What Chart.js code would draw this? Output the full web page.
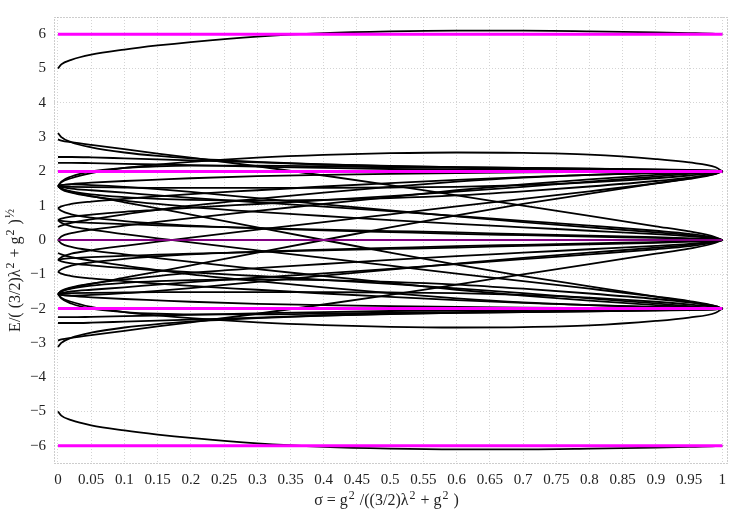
<!DOCTYPE html>
<html>
<head>
<meta charset="utf-8">
<script src="https://cdn.jsdelivr.net/npm/chart.js@4/dist/chart.umd.min.js"></script>
<style>
  html, body { margin: 0; padding: 0; background: #fff; }
  #c { display: block; }
</style>
</head>
<body>
<canvas id="c" width="750" height="525"></canvas>
<script>
// ─── Data ─────────────────────────────────────────────────────────────────────
const sigma = [0, 0.005, 0.02, 0.05, 0.1, 0.15, 0.2, 0.3, 0.4, 0.5, 0.6, 0.7, 0.8, 0.9, 0.95, 0.99, 1];

const xTicks = [0, 0.05, 0.1, 0.15, 0.2, 0.25, 0.3, 0.35, 0.4, 0.45, 0.5, 0.55, 0.6, 0.65, 0.7, 0.75, 0.8, 0.85, 0.9, 0.95, 1];
const yTicks = [-6, -5, -4, -3, -2, -1, 0, 1, 2, 3, 4, 5, 6];

// reference levels (magenta)
const levelsThick = [6, 2, -2, -6];
const levelsThin = [0];

// upper half
const topLevel = [5.0, 5.12, 5.25, 5.4, 5.55, 5.67, 5.77, 5.93, 6.03, 6.08, 6.1, 6.1, 6.08, 6.05, 6.03, 6.01, 6.0];
const outerUp  = [1.57, 1.68, 1.8, 1.95, 2.1, 2.2, 2.28, 2.4, 2.48, 2.53, 2.55, 2.54, 2.49, 2.36, 2.26, 2.12, 2.0];
const upA = [3.12, 3.0, 2.85, 2.7, 2.55, 2.45, 2.38, 2.28, 2.2, 2.15, 2.12, 2.1, 2.08, 2.06, 2.04, 2.02, 2.0];
const upB = [2.42, 2.42, 2.42, 2.41, 2.38, 2.35, 2.32, 2.26, 2.2, 2.16, 2.12, 2.1, 2.08, 2.05, 2.04, 2.02, 2.0];
const upC = [2.25, 2.25, 2.25, 2.24, 2.22, 2.2, 2.18, 2.14, 2.1, 2.07, 2.05, 2.04, 2.03, 2.02, 2.01, 2.0, 2.0];
const upD = [1.57, 1.7, 1.85, 2.0, 2.1, 2.15, 2.17, 2.17, 2.15, 2.12, 2.1, 2.08, 2.06, 2.04, 2.03, 2.01, 2.0];
const upE = [1.57, 1.6, 1.63, 1.67, 1.72, 1.76, 1.8, 1.86, 1.9, 1.93, 1.95, 1.97, 1.98, 1.99, 1.99, 2.0, 2.0];
const upF = [0.93, 0.98, 1.05, 1.12, 1.2, 1.27, 1.34, 1.45, 1.56, 1.66, 1.75, 1.83, 1.9, 1.95, 1.97, 1.99, 2.0];
const upG = [0.38, 0.42, 0.5, 0.6, 0.75, 0.88, 1.0, 1.2, 1.38, 1.55, 1.7, 1.82, 1.9, 1.96, 1.98, 2.0, 2.0];
const upH = [0, 0.1, 0.2, 0.3, 0.42, 0.53, 0.64, 0.85, 1.05, 1.25, 1.45, 1.62, 1.77, 1.9, 1.95, 1.99, 2.0];
const upI = [1.57, 1.56, 1.55, 1.54, 1.53, 1.52, 1.52, 1.52, 1.52, 1.53, 1.55, 1.6, 1.68, 1.8, 1.88, 1.96, 2.0];
const upJ = [0.58, 0.62, 0.68, 0.74, 0.82, 0.88, 0.94, 1.05, 1.16, 1.28, 1.41, 1.55, 1.7, 1.85, 1.93, 1.99, 2.0];
const innerUp = [1.57, 1.5, 1.42, 1.33, 1.25, 1.2, 1.17, 1.15, 1.17, 1.22, 1.3, 1.42, 1.56, 1.72, 1.82, 1.93, 2.0];
const downA = [2.93, 2.9, 2.85, 2.77, 2.65, 2.52, 2.4, 2.15, 1.88, 1.6, 1.3, 1.0, 0.7, 0.4, 0.25, 0.08, 0.0];
const downB = [1.57, 1.55, 1.5, 1.45, 1.38, 1.3, 1.23, 1.1, 0.97, 0.84, 0.7, 0.56, 0.42, 0.27, 0.18, 0.06, 0.0];
const downC = [1.57, 1.48, 1.38, 1.27, 1.15, 1.05, 0.96, 0.82, 0.7, 0.58, 0.47, 0.37, 0.27, 0.17, 0.11, 0.04, 0.0];
const downD = [0.93, 0.85, 0.75, 0.65, 0.55, 0.48, 0.42, 0.34, 0.28, 0.23, 0.18, 0.14, 0.1, 0.06, 0.04, 0.01, 0.0];
const downE = [0.58, 0.56, 0.53, 0.5, 0.46, 0.43, 0.4, 0.35, 0.3, 0.26, 0.22, 0.17, 0.13, 0.08, 0.05, 0.02, 0.0];
const downF = [1.57, 1.6, 1.62, 1.6, 1.55, 1.48, 1.4, 1.22, 1.04, 0.86, 0.69, 0.52, 0.37, 0.22, 0.14, 0.04, 0.0];
const crossDown = [1.57, 1.5, 1.4, 1.28, 1.1, 0.92, 0.74, 0.37, 0.0, -0.37, -0.72, -1.05, -1.35, -1.65, -1.8, -1.95, -2.0];
const crossDown2 = [0.58, 0.5, 0.4, 0.3, 0.17, 0.05, -0.07, -0.3, -0.52, -0.75, -0.98, -1.2, -1.42, -1.65, -1.78, -1.93, -2.0];
const zeroLevel = [0, 0, 0, 0, 0, 0, 0, 0, 0, 0, 0, 0, 0, 0, 0, 0, 0];

// lower half
const bottomLevel = [-5.0, -5.12, -5.25, -5.4, -5.55, -5.67, -5.77, -5.93, -6.03, -6.08, -6.1, -6.1, -6.08, -6.05, -6.03, -6.01, -6.0];
const outerLow = [-1.57, -1.68, -1.8, -1.95, -2.1, -2.2, -2.28, -2.4, -2.48, -2.53, -2.55, -2.54, -2.49, -2.36, -2.26, -2.12, -2.0];
const lowA = [-3.12, -3.0, -2.85, -2.7, -2.55, -2.45, -2.38, -2.28, -2.2, -2.15, -2.12, -2.1, -2.08, -2.06, -2.04, -2.02, -2.0];
const lowB = [-2.42, -2.42, -2.42, -2.41, -2.38, -2.35, -2.32, -2.26, -2.2, -2.16, -2.12, -2.1, -2.08, -2.05, -2.04, -2.02, -2.0];
const lowC = [-2.25, -2.25, -2.25, -2.24, -2.22, -2.2, -2.18, -2.14, -2.1, -2.07, -2.05, -2.04, -2.03, -2.02, -2.01, -2.0, -2.0];
const lowD = [-1.57, -1.7, -1.85, -2.0, -2.1, -2.15, -2.17, -2.17, -2.15, -2.12, -2.1, -2.08, -2.06, -2.04, -2.03, -2.01, -2.0];
const lowE = [-1.57, -1.6, -1.63, -1.67, -1.72, -1.76, -1.8, -1.86, -1.9, -1.93, -1.95, -1.97, -1.98, -1.99, -1.99, -2.0, -2.0];
const lowF = [-0.93, -0.98, -1.05, -1.12, -1.2, -1.27, -1.34, -1.45, -1.56, -1.66, -1.75, -1.83, -1.9, -1.95, -1.97, -1.99, -2.0];
const lowG = [-0.38, -0.42, -0.5, -0.6, -0.75, -0.88, -1.0, -1.2, -1.38, -1.55, -1.7, -1.82, -1.9, -1.96, -1.98, -2.0, -2.0];
const lowH = [0, -0.1, -0.2, -0.3, -0.42, -0.53, -0.64, -0.85, -1.05, -1.25, -1.45, -1.62, -1.77, -1.9, -1.95, -1.99, -2.0];
const lowI = [-1.57, -1.56, -1.55, -1.54, -1.53, -1.52, -1.52, -1.52, -1.52, -1.53, -1.55, -1.6, -1.68, -1.8, -1.88, -1.96, -2.0];
const lowJ = [-0.58, -0.62, -0.68, -0.74, -0.82, -0.88, -0.94, -1.05, -1.16, -1.28, -1.41, -1.55, -1.7, -1.85, -1.93, -1.99, -2.0];
const innerLow = [-1.57, -1.5, -1.42, -1.33, -1.25, -1.2, -1.17, -1.15, -1.17, -1.22, -1.3, -1.42, -1.56, -1.72, -1.82, -1.93, -2.0];
const riseA = [-2.93, -2.9, -2.85, -2.77, -2.65, -2.52, -2.4, -2.15, -1.88, -1.6, -1.3, -1.0, -0.7, -0.4, -0.25, -0.08, 0.0];
const riseB = [-1.57, -1.55, -1.5, -1.45, -1.38, -1.3, -1.23, -1.1, -0.97, -0.84, -0.7, -0.56, -0.42, -0.27, -0.18, -0.06, 0.0];
const riseC = [-1.57, -1.48, -1.38, -1.27, -1.15, -1.05, -0.96, -0.82, -0.7, -0.58, -0.47, -0.37, -0.27, -0.17, -0.11, -0.04, 0.0];
const riseD = [-0.93, -0.85, -0.75, -0.65, -0.55, -0.48, -0.42, -0.34, -0.28, -0.23, -0.18, -0.14, -0.1, -0.06, -0.04, -0.01, 0.0];
const riseE = [-0.58, -0.56, -0.53, -0.5, -0.46, -0.43, -0.4, -0.35, -0.3, -0.26, -0.22, -0.17, -0.13, -0.08, -0.05, -0.02, 0.0];
const riseF = [-1.57, -1.6, -1.62, -1.6, -1.55, -1.48, -1.4, -1.22, -1.04, -0.86, -0.69, -0.52, -0.37, -0.22, -0.14, -0.04, 0.0];
const crossUp = [-1.57, -1.5, -1.4, -1.28, -1.1, -0.92, -0.74, -0.37, 0.0, 0.37, 0.72, 1.05, 1.35, 1.65, 1.8, 1.95, 2.0];
const crossUp2 = [-0.58, -0.5, -0.4, -0.3, -0.17, -0.05, 0.07, 0.3, 0.52, 0.75, 0.98, 1.2, 1.42, 1.65, 1.78, 1.93, 2.0];

const curves = [
    topLevel, outerUp, upA, upB, upC, upD, upE, upF, upG, upH, upI, upJ, innerUp,
    downA, downB, downC, downD, downE, downF, crossDown, crossDown2, zeroLevel,
    bottomLevel, outerLow, lowA, lowB, lowC, lowD, lowE, lowF, lowG, lowH, lowI, lowJ, innerLow,
    riseA, riseB, riseC, riseD, riseE, riseF, crossUp, crossUp2,
];

// axis titles, split into normal / superscript runs
const xTitle = [['σ = g', 0], ['2', 1], [' /((3/2)λ', 0], ['2', 1], [' + g', 0], ['2', 1], [' )', 0]];
const yTitle = [['E/( (3/2)λ', 0], ['2', 1], [' + g', 0], ['2', 1], [' )', 0], ['½', 1]];

// ─── Datasets ─────────────────────────────────────────────────────────────────
const FONT = "'Liberation Serif', 'DejaVu Serif', serif";

const curveSets = curves.map(vals => ({
    data: vals.map((y, i) => ({ x: sigma[i], y })),
    borderColor: '#000',
    borderWidth: 1.8,
    pointRadius: 0,
    showLine: true,
    cubicInterpolationMode: 'monotone',
    order: 2,
}));

const levelLine = (y, w) => ({
    data: [{ x: 0, y }, { x: 1, y }],
    borderColor: '#ff00ff',
    borderWidth: w,
    pointRadius: 0,
    showLine: true,
    order: 1,
});

const datasets = [
    ...levelsThick.map(y => levelLine(y, 3)),
    ...levelsThin.map(y => levelLine(y, 1.2)),
    ...curveSets,
];

// ─── Plugins ──────────────────────────────────────────────────────────────────
function drawRich(ctx, runs, cx, cy, angle) {
    const fontFor = sup => `${sup ? 12 : 16}px ${FONT}`;
    let total = 0;
    runs.forEach(([t, sup]) => {
        ctx.font = fontFor(sup);
        total += ctx.measureText(t).width + (sup ? 2 : 0);
    });
    ctx.save();
    ctx.translate(cx, cy);
    ctx.rotate(angle);
    ctx.fillStyle = '#222';
    ctx.textBaseline = 'alphabetic';
    ctx.textAlign = 'left';
    let x = -total / 2;
    runs.forEach(([t, sup]) => {
        ctx.font = fontFor(sup);
        ctx.fillText(t, x + (sup ? 1 : 0), sup ? -1 : 5);
        x += ctx.measureText(t).width + (sup ? 2 : 0);
    });
    ctx.restore();
}

const framePlugin = {
    id: 'frame',
    afterDraw(chart) {
        const { ctx, chartArea: a } = chart;
        ctx.save();
        ctx.strokeStyle = '#9a9a9a';
        ctx.lineWidth = 1;
        ctx.setLineDash([1, 2]);
        ctx.strokeRect(a.left + 0.5, a.top + 0.5, a.right - a.left, a.bottom - a.top);
        ctx.restore();
        drawRich(ctx, xTitle, (a.left + a.right) / 2 - 4, 500, 0);
        drawRich(ctx, yTitle, 15, 270, -Math.PI / 2);
    },
};

new Chart(document.getElementById('c'), {
    type: 'scatter',
    data: { datasets },
    plugins: [framePlugin],
    options: {
        responsive: false,
        animation: false,
        layout: { padding: { top: 17, right: 23, left: 0, bottom: 0 } },
        plugins: { legend: { display: false }, tooltip: { enabled: false } },
        scales: {
            x: {
                type: 'linear',
                min: -0.006,
                max: 1.007,
                afterFit: s => { s.height = 62; },
                afterBuildTicks: s => { s.ticks = xTicks.map(v => ({ value: v })); },
                grid: { color: '#d4d4d4', drawTicks: false },
                border: { display: false, dash: [1, 2] },
                ticks: {
                    color: '#222',
                    padding: 8,
                    maxRotation: 0,
                    autoSkip: false,
                    font: { family: FONT, size: 15 },
                    callback: v => String(v),
                },
            },
            y: {
                type: 'linear',
                min: -6.5,
                max: 6.5,
                afterFit: s => { s.width = 54; },
                afterBuildTicks: s => { s.ticks = yTicks.map(v => ({ value: v })); },
                grid: { color: '#d4d4d4', drawTicks: false },
                border: { display: false, dash: [1, 2] },
                ticks: {
                    color: '#222',
                    padding: 8,
                    font: { family: FONT, size: 15 },
                    callback: v => String(v).replace('-', '−'),
                },
            },
        },
    },
});
</script>
</body>
</html>
